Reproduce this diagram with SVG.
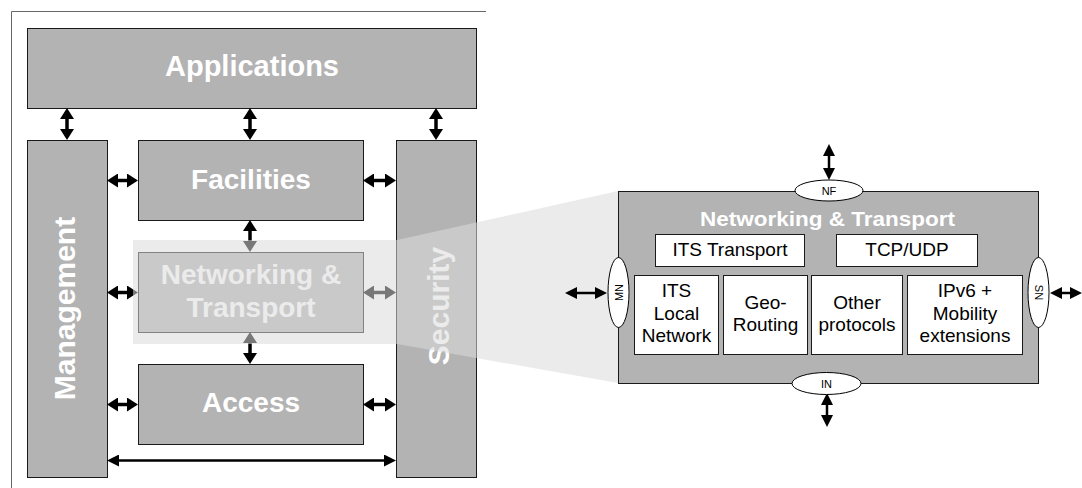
<svg xmlns="http://www.w3.org/2000/svg" width="1082" height="488" viewBox="0 0 1082 488">
<style>
.box{fill:#b3b3b3;stroke:#1a1a1a;stroke-width:1}
.big{font-family:"Liberation Sans",Arial,sans-serif;font-weight:bold;fill:#ffffff;text-anchor:middle}
.sub{fill:#ffffff;stroke:#1a1a1a;stroke-width:1}
.sm{font-family:"Liberation Sans",Arial,sans-serif;font-size:19px;fill:#000000;text-anchor:middle}
.tiny{font-family:"Liberation Sans",Arial,sans-serif;font-size:11px;fill:#000000;text-anchor:middle}
.ell{fill:#ffffff;stroke:#000000;stroke-width:1}
.a{stroke:#000000;stroke-width:3.5;fill:none;marker-start:url(#h);marker-end:url(#h)}
.b{stroke:#000000;stroke-width:2.5;fill:none;marker-start:url(#h2);marker-end:url(#h2)}
</style>
<defs>
<marker id="h" markerUnits="userSpaceOnUse" viewBox="0 0 11 14" refX="6" refY="7" markerWidth="11" markerHeight="14" orient="auto-start-reverse"><path d="M0 0 L11 7 L0 14 Z" fill="#000000"/></marker>
<marker id="h2" markerUnits="userSpaceOnUse" viewBox="0 0 12 12" refX="8" refY="6" markerWidth="12" markerHeight="12" orient="auto-start-reverse"><path d="M0 0 L12 6 L0 12 Z" fill="#000000"/></marker>
</defs>
<rect width="1082" height="488" fill="#ffffff"/>
<path d="M11.5 490 V11.5 H486" fill="none" stroke="#666666" stroke-width="1"/>
<g id="applications"><rect class="box" x="27.5" y="28.5" width="449" height="80"/><text class="big" x="252" y="76" font-size="29">Applications</text></g>
<g id="management"><rect class="box" x="27.5" y="140.5" width="80" height="337"/><text class="big" font-size="30" transform="translate(75,308.5) rotate(-90)">Management</text></g>
<g id="facilities"><rect class="box" x="138.5" y="140.5" width="225" height="80"/><text class="big" x="251" y="189" font-size="28">Facilities</text></g>
<g id="security"><rect class="box" x="396.5" y="140.5" width="80" height="337"/><text class="big" font-size="30" transform="translate(449,306) rotate(-90)">Security</text></g>
<g id="networking-transport"><rect class="box" x="138.5" y="252.5" width="225" height="80"/><text class="big" x="251" y="284" font-size="28">Networking &amp;</text><text class="big" x="251" y="317" font-size="28">Transport</text></g>
<g id="access"><rect class="box" x="138.5" y="364.5" width="225" height="80"/><text class="big" x="251" y="412" font-size="28">Access</text></g>
<g id="connectors">
<path class="a" d="M67 113 V135"/>
<path class="a" d="M250 113 V135"/>
<path class="a" d="M436 113 V135"/>
<path class="a" d="M112 180.5 H133"/>
<path class="a" d="M368 180.5 H391"/>
<path class="a" d="M250 225 V247"/>
<path class="a" d="M112 292.5 H133"/>
<path class="a" d="M368 292.5 H391"/>
<path class="a" d="M250 337 V359"/>
<path class="a" d="M112 404.5 H133"/>
<path class="a" d="M368 404.5 H391"/>
<path class="b" d="M111 460.5 H392"/>
</g>
<polygon id="zoom-highlight" points="133,240 397,240 618,191 618,383 397,344 133,344" fill="#dadada" fill-opacity="0.55"/>
<g id="nt-panel"><rect class="box" x="618.5" y="191.5" width="420" height="192" stroke="#333333"/><text class="big" x="827.5" y="226" font-size="20" textLength="255" lengthAdjust="spacingAndGlyphs">Networking &amp; Transport</text></g>
<g id="its-transport"><rect class="sub" x="655.5" y="234.5" width="149" height="32"/><text class="sm" x="730" y="256">ITS Transport</text></g>
<g id="tcp-udp"><rect class="sub" x="836.5" y="234.5" width="141" height="32"/><text class="sm" x="907" y="256">TCP/UDP</text></g>
<g id="its-local-network"><rect class="sub" x="634.5" y="275.5" width="84" height="79"/><text class="sm" x="676.5" y="297">ITS</text><text class="sm" x="676.5" y="319.5">Local</text><text class="sm" x="676.5" y="342">Network</text></g>
<g id="geo-routing"><rect class="sub" x="723.5" y="275.5" width="84" height="79"/><text class="sm" x="765.5" y="308.5">Geo-</text><text class="sm" x="765.5" y="331">Routing</text></g>
<g id="other-protocols"><rect class="sub" x="811.5" y="275.5" width="91" height="79"/><text class="sm" x="857" y="308.5">Other</text><text class="sm" x="857" y="331">protocols</text></g>
<g id="ipv6-mobility"><rect class="sub" x="907.5" y="275.5" width="115" height="79"/><text class="sm" x="965" y="297">IPv6 +</text><text class="sm" x="965" y="319.5">Mobility</text><text class="sm" x="965" y="342">extensions</text></g>
<g id="panel-connectors">
<path class="b" d="M829 148 V176"/>
<path class="b" d="M827 397 V423"/>
<path class="b" d="M569 293 H603"/>
<path class="b" d="M1054 293 H1078"/>
</g>
<g id="nf"><ellipse class="ell" cx="829" cy="190.5" rx="34" ry="10.5"/><text class="tiny" x="829" y="194.5">NF</text></g>
<g id="in"><ellipse class="ell" cx="826.5" cy="383.5" rx="34.5" ry="11"/><text class="tiny" x="826.5" y="387.5">IN</text></g>
<g id="mn"><ellipse class="ell" cx="618.5" cy="292.5" rx="10.5" ry="35"/><text class="tiny" transform="translate(622.5,292.5) rotate(-90)">MN</text></g>
<g id="sn"><ellipse class="ell" cx="1038.5" cy="292.5" rx="10.5" ry="35"/><text class="tiny" transform="translate(1034.5,292.5) rotate(90)">SN</text></g>
</svg>
